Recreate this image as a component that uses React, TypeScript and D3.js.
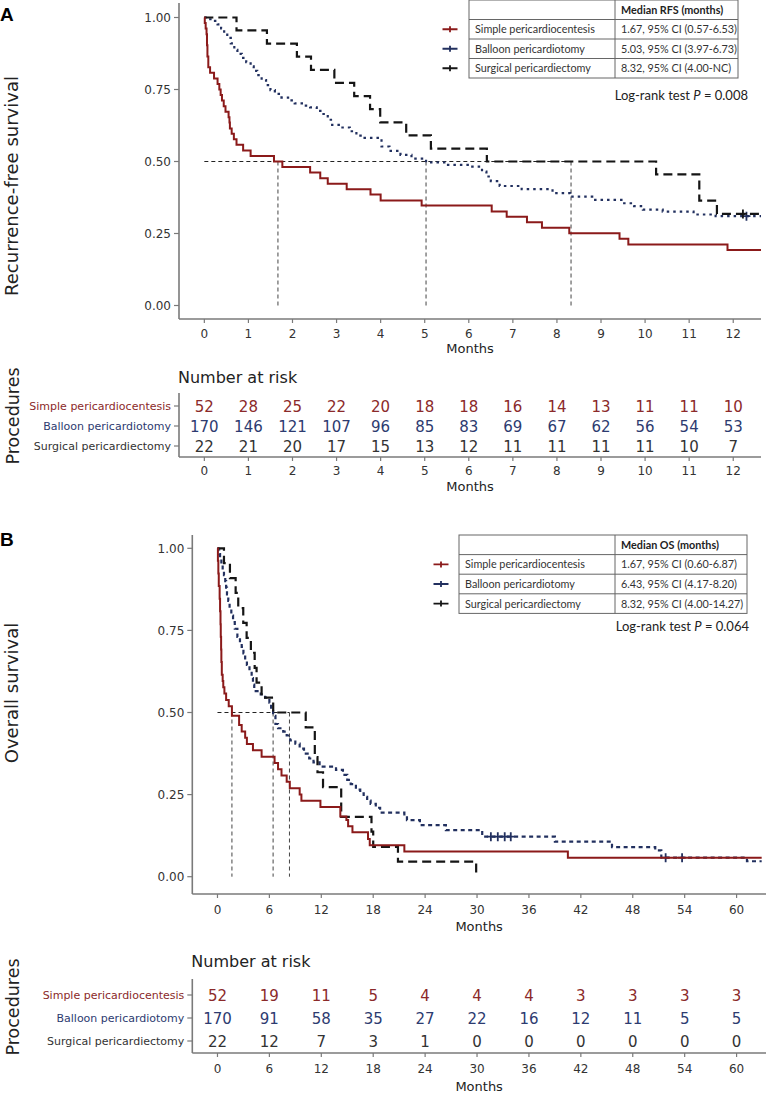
import React, { useEffect, useRef } from "react";
import * as d3 from "d3";

type Step = [number, number];

// groups and colours
const groups = ["Simple pericardiocentesis", "Balloon pericardiotomy", "Surgical pericardiectomy"];
const lineColors = ["#8b1a1a", "#22305f", "#151515"];
const labelColors = ["#8b2a2a", "#2d3b70", "#333333"];

// Panel A - recurrence-free survival (time in months, survival after each drop)
const rfsSimple: Step[] = [
  [0.01, 0.981], [0.03, 0.962], [0.05, 0.942], [0.06, 0.904], [0.07, 0.865], [0.09, 0.827],
  [0.13, 0.808], [0.22, 0.788], [0.3, 0.769], [0.34, 0.75], [0.37, 0.731], [0.4, 0.712],
  [0.44, 0.692], [0.48, 0.673], [0.55, 0.654], [0.57, 0.635], [0.58, 0.615], [0.62, 0.596],
  [0.67, 0.577], [0.73, 0.558], [0.88, 0.538], [1.05, 0.519], [1.58, 0.5], [1.77, 0.481],
  [2.4, 0.462], [2.63, 0.442], [2.8, 0.423], [3.23, 0.404], [3.77, 0.385], [4.0, 0.365],
  [4.93, 0.347], [6.52, 0.326], [6.86, 0.308], [7.32, 0.289], [7.66, 0.27], [8.28, 0.251],
  [9.42, 0.232], [9.62, 0.212], [11.87, 0.193],
];
const rfsBalloon: Step[] = [
  [0.1, 0.994], [0.2, 0.988], [0.3, 0.976], [0.38, 0.962], [0.45, 0.947], [0.52, 0.929],
  [0.6, 0.91], [0.68, 0.888], [0.75, 0.874], [0.85, 0.86], [0.95, 0.845], [1.05, 0.83],
  [1.12, 0.815], [1.2, 0.8], [1.3, 0.783], [1.4, 0.765], [1.5, 0.748], [1.6, 0.735],
  [1.75, 0.722], [1.9, 0.712], [2.05, 0.702], [2.25, 0.694], [2.4, 0.688], [2.55, 0.676],
  [2.66, 0.665], [2.8, 0.645], [2.9, 0.627], [3.1, 0.618], [3.3, 0.605], [3.45, 0.59],
  [3.6, 0.582], [4.02, 0.552], [4.2, 0.537], [4.45, 0.523], [4.7, 0.51], [5.03, 0.497],
  [5.5, 0.488], [6.05, 0.482], [6.3, 0.465], [6.4, 0.448], [6.5, 0.432], [6.7, 0.415],
  [7.2, 0.404], [7.9, 0.39], [8.3, 0.378], [8.8, 0.367], [9.5, 0.355], [9.75, 0.345],
  [9.95, 0.333], [10.4, 0.326], [11.1, 0.316], [11.6, 0.31],
];
const rfsSurgical: Step[] = [
  [0.73, 0.955], [1.42, 0.909], [2.1, 0.864], [2.42, 0.818], [2.95, 0.773], [3.4, 0.727],
  [3.76, 0.682], [3.99, 0.636], [4.58, 0.591], [5.14, 0.545], [6.41, 0.5], [10.25, 0.455],
  [11.23, 0.364], [11.63, 0.318],
];
const rfsEnd = [12.63, 12.63, 12.63];
const rfsCensor = [[], [12.3], [12.22]];
const medianA = [1.67, 5.03, 8.32];
const medianTextA = ["1.67, 95% CI (0.57-6.53)", "5.03, 95% CI (3.97-6.73)", "8.32, 95% CI (4.00-NC)"];

// Panel B - overall survival
const osSimple: Step[] = [
  [0.05, 0.962], [0.1, 0.923], [0.15, 0.885], [0.25, 0.846], [0.3, 0.808], [0.35, 0.769],
  [0.38, 0.731], [0.42, 0.692], [0.45, 0.654], [0.5, 0.615], [0.6, 0.596], [0.67, 0.577],
  [0.8, 0.558], [1.0, 0.538], [1.3, 0.519], [1.67, 0.49], [2.5, 0.462], [2.8, 0.442],
  [3.2, 0.423], [3.4, 0.404], [4.1, 0.385], [5.1, 0.365], [6.6, 0.346], [7.0, 0.327],
  [7.4, 0.308], [8.0, 0.289], [8.36, 0.269], [9.5, 0.25], [9.7, 0.231], [11.9, 0.212],
  [14.2, 0.183], [14.9, 0.173], [15.1, 0.154], [15.6, 0.135], [17.4, 0.115], [17.6, 0.096],
  [21.6, 0.077], [40.5, 0.058],
];
const osBalloon: Step[] = [
  [0.1, 0.994], [0.2, 0.982], [0.3, 0.97], [0.45, 0.953], [0.6, 0.935], [0.75, 0.918],
  [0.9, 0.9], [1.0, 0.88], [1.1, 0.86], [1.25, 0.84], [1.4, 0.818], [1.6, 0.795],
  [1.8, 0.775], [2.0, 0.755], [2.3, 0.73], [2.6, 0.712], [2.8, 0.7], [3.0, 0.68],
  [3.2, 0.66], [3.4, 0.645], [3.7, 0.625], [3.95, 0.605], [4.1, 0.585], [4.25, 0.565],
  [5.0, 0.555], [5.5, 0.545], [6.0, 0.53], [6.2, 0.51], [6.43, 0.49], [6.7, 0.465],
  [7.0, 0.452], [7.6, 0.442], [8.0, 0.43], [8.4, 0.415], [9.0, 0.405], [9.5, 0.39],
  [10.0, 0.375], [10.6, 0.36], [11.1, 0.348], [11.8, 0.335], [13.7, 0.325], [14.5, 0.31],
  [15.0, 0.295], [15.4, 0.282], [16.0, 0.265], [16.5, 0.254], [16.9, 0.243], [17.3, 0.232],
  [17.7, 0.222], [18.3, 0.21], [18.8, 0.195], [21.6, 0.185], [21.9, 0.172], [23.4, 0.157],
  [26.4, 0.142], [30.6, 0.122], [39.0, 0.107], [45.6, 0.09], [50.6, 0.08], [51.3, 0.058],
  [61.2, 0.047],
];
const osSurgical: Step[] = [
  [0.75, 0.955], [1.44, 0.909], [2.1, 0.864], [2.4, 0.818], [2.98, 0.773], [3.37, 0.727],
  [3.86, 0.682], [4.3, 0.636], [4.52, 0.591], [5.1, 0.545], [6.44, 0.5], [10.2, 0.455],
  [11.25, 0.364], [11.56, 0.318], [12.2, 0.273], [14.3, 0.182], [17.8, 0.137], [18.0, 0.091],
  [20.86, 0.046], [29.9, 0.0],
];
const osEnd = [62.9, 62.9, 29.9];
const osCensor = [[], [31.6, 32.4, 33.2, 33.9, 51.8, 53.7], []];
const medianB = [1.67, 6.43, 8.32];
const medianTextB = ["1.67, 95% CI (0.60-6.87)", "6.43, 95% CI (4.17-8.20)", "8.32, 95% CI (4.00-14.27)"];

// numbers at risk
const riskTimesA = [0, 1, 2, 3, 4, 5, 6, 7, 8, 9, 10, 11, 12];
const riskSimpleA = [52, 28, 25, 22, 20, 18, 18, 16, 14, 13, 11, 11, 10];
const riskBalloonA = [170, 146, 121, 107, 96, 85, 83, 69, 67, 62, 56, 54, 53];
const riskSurgicalA = [22, 21, 20, 17, 15, 13, 12, 11, 11, 11, 11, 10, 7];
const riskTimesB = [0, 6, 12, 18, 24, 30, 36, 42, 48, 54, 60];
const riskSimpleB = [52, 19, 11, 5, 4, 4, 4, 3, 3, 3, 3];
const riskBalloonB = [170, 91, 58, 35, 27, 22, 16, 12, 11, 5, 5];
const riskSurgicalB = [22, 12, 7, 3, 1, 0, 0, 0, 0, 0, 0];

const yTicks = [0, 0.25, 0.5, 0.75, 1];

const sans = "'DejaVu Sans', Verdana, sans-serif";
const calib = "Lato, 'Open Sans', sans-serif";
const axisColor = "#7a7a7a";

const panelA = {
  letter: "A", letterY: 21,
  xDomain: [-0.575, 12.63], xRange: [179, 761],
  yRange: [305.5, 17.5], axisTop: 3, axisBottom: 319,
  xTicks: riskTimesA, xTickY: 337.5, monthsY: 352.5,
  yTitle: "Recurrence-free survival", yTitleY: 186,
  curves: [rfsSimple, rfsBalloon, rfsSurgical], ends: rfsEnd, censors: rfsCensor,
  blueDash: "2.5,4",
  medians: medianA,
  legend: { left: 469, right: 738, divider: 615, top: 0, rowH: 19.5, symX: 450, header: "Median RFS (months)", texts: medianTextA },
  logRank: "0.008", logRankX: 748, logRankY: 100,
  risk: {
    titleY: 383, top: 393, bottom: 457, rows: [406, 426, 446], tickY: 474.5, monthsY: 490.5,
    procY: 416, values: [riskSimpleA, riskBalloonA, riskSurgicalA],
  },
};

const panelB = {
  letter: "B", letterY: 546,
  xDomain: [-2.91, 63.4], xRange: [192.3, 766],
  yRange: [876.7, 548.3], axisTop: 535, axisBottom: 894,
  xTicks: riskTimesB, xTickY: 913.5, monthsY: 930.5,
  yTitle: "Overall survival", yTitleY: 693,
  curves: [osSimple, osBalloon, osSurgical], ends: osEnd, censors: osCensor,
  blueDash: "4,3.5",
  medians: medianB,
  legend: { left: 459, right: 747, divider: 615, top: 535, rowH: 19.6, symX: 441, header: "Median OS (months)", texts: medianTextB },
  logRank: "0.064", logRankX: 749, logRankY: 631,
  risk: {
    titleY: 967, top: 979, bottom: 1053, rows: [995, 1018, 1041], tickY: 1072.5, monthsY: 1090.5,
    procY: 1007, values: [riskSimpleB, riskBalloonB, riskSurgicalB],
  },
};

function survivalAt(steps: Step[], t: number) {
  let s = 1;
  steps.forEach((d) => {
    if (d[0] <= t) s = d[1];
  });
  return s;
}

function drawPanel(svg: any, p: any) {
  const x = d3.scaleLinear().domain(p.xDomain).range(p.xRange);
  const y = d3.scaleLinear().domain([0, 1]).range(p.yRange);
  const left = p.xRange[0];
  const right = p.xRange[1];
  const g = svg.append("g");

  // panel letter
  g.append("text")
    .attr("x", 0)
    .attr("y", p.letterY)
    .style("font-family", "'Liberation Sans', Arial, sans-serif")
    .style("font-weight", "bold")
    .style("font-size", "19px")
    .text(p.letter);

  // axes
  g.append("line")
    .attr("x1", left).attr("x2", left)
    .attr("y1", p.axisTop).attr("y2", p.axisBottom)
    .attr("stroke", axisColor).attr("stroke-width", 1.6);
  g.append("line")
    .attr("x1", left).attr("x2", right)
    .attr("y1", p.axisBottom).attr("y2", p.axisBottom)
    .attr("stroke", axisColor).attr("stroke-width", 1.6);

  yTicks.forEach((v) => {
    g.append("line")
      .attr("x1", left - 5).attr("x2", left)
      .attr("y1", y(v)).attr("y2", y(v))
      .attr("stroke", axisColor).attr("stroke-width", 1.2);
    g.append("text")
      .attr("x", left - 8)
      .attr("y", y(v) + 4.3)
      .attr("text-anchor", "end")
      .style("font-family", sans).style("font-size", "12px").attr("fill", "#333")
      .text(d3.format(".2f")(v));
  });

  p.xTicks.forEach((t: number) => {
    g.append("line")
      .attr("x1", x(t)).attr("x2", x(t))
      .attr("y1", p.axisBottom).attr("y2", p.axisBottom + 4)
      .attr("stroke", axisColor).attr("stroke-width", 1.2);
    g.append("text")
      .attr("x", x(t)).attr("y", p.xTickY)
      .attr("text-anchor", "middle")
      .style("font-family", sans).style("font-size", "12px").attr("fill", "#333")
      .text(t);
  });

  g.append("text")
    .attr("x", (left + right) / 2).attr("y", p.monthsY)
    .attr("text-anchor", "middle")
    .style("font-family", sans).style("font-size", "13px").attr("fill", "#222")
    .text("Months");

  g.append("text")
    .attr("transform", `translate(18,${p.yTitleY}) rotate(-90)`)
    .attr("text-anchor", "middle")
    .style("font-family", sans).style("font-size", "18px").attr("fill", "#222")
    .text(p.yTitle);

  // median lines
  const maxMedian = d3.max(p.medians as number[]) as number;
  g.append("line")
    .attr("x1", x(0)).attr("x2", x(maxMedian))
    .attr("y1", y(0.5)).attr("y2", y(0.5))
    .attr("stroke", "#222").attr("stroke-width", 1).attr("stroke-dasharray", "4,3");
  p.medians.forEach((m: number) => {
    g.append("line")
      .attr("x1", x(m)).attr("x2", x(m))
      .attr("y1", y(0.5)).attr("y2", y(0))
      .attr("stroke", "#444").attr("stroke-width", 1).attr("stroke-dasharray", "4,3");
  });

  // survival curves
  const line = d3
    .line<Step>()
    .x((d) => x(d[0]))
    .y((d) => y(d[1]))
    .curve(d3.curveStepAfter);
  const styles = [
    { dash: null, width: 2 },
    { dash: p.blueDash, width: 2.2 },
    { dash: "9,5", width: 2.2 },
  ];
  [1, 2, 0].forEach((i) => {
    const steps: Step[] = p.curves[i];
    const last = steps[steps.length - 1][1];
    const pts: Step[] = [[0, 1], ...steps, [p.ends[i], last]];
    g.append("path")
      .attr("d", line(pts))
      .attr("fill", "none")
      .attr("stroke", lineColors[i])
      .attr("stroke-width", styles[i].width)
      .attr("stroke-dasharray", styles[i].dash);
    p.censors[i].forEach((t: number) => {
      const cy = y(survivalAt(steps, t));
      g.append("path")
        .attr("d", `M${x(t) - 4},${cy}H${x(t) + 4}M${x(t)},${cy - 4.5}V${cy + 4.5}`)
        .attr("stroke", lineColors[i])
        .attr("stroke-width", 1.8)
        .attr("fill", "none");
    });
  });

  // legend table
  const L = p.legend;
  const lg = g.append("g");
  const bottom = L.top + L.rowH * 4;
  lg.append("rect")
    .attr("x", L.left).attr("y", L.top)
    .attr("width", L.right - L.left).attr("height", bottom - L.top)
    .attr("fill", "#fff").attr("stroke", "#666").attr("stroke-width", 1);
  lg.append("line")
    .attr("x1", L.divider).attr("x2", L.divider)
    .attr("y1", L.top).attr("y2", bottom)
    .attr("stroke", "#666").attr("stroke-width", 1);
  [1, 2, 3].forEach((r) => {
    lg.append("line")
      .attr("x1", L.left).attr("x2", L.right)
      .attr("y1", L.top + r * L.rowH).attr("y2", L.top + r * L.rowH)
      .attr("stroke", "#666").attr("stroke-width", 1);
  });
  lg.append("text")
    .attr("x", L.divider + 6).attr("y", L.top + 13.8)
    .style("font-family", calib).style("font-size", "10.8px").style("font-weight", "bold")
    .attr("fill", "#222")
    .text(L.header);
  groups.forEach((name, i) => {
    const rowTop = L.top + (i + 1) * L.rowH;
    const cy = rowTop + L.rowH / 2;
    lg.append("text")
      .attr("x", L.left + 6).attr("y", rowTop + 13.8)
      .style("font-family", calib).style("font-size", "10.8px").attr("fill", "#333")
      .text(name);
    lg.append("text")
      .attr("x", L.divider + 6).attr("y", rowTop + 13.8)
      .style("font-family", calib).style("font-size", "10.8px").attr("fill", "#333")
      .text(L.texts[i]);
    lg.append("path")
      .attr("d", `M${L.symX - 7.5},${cy}H${L.symX + 7.5}M${L.symX},${cy - 3}V${cy + 3}`)
      .attr("stroke", lineColors[i]).attr("stroke-width", 1.8).attr("fill", "none");
  });

  const lr = g.append("text")
    .attr("x", p.logRankX).attr("y", p.logRankY)
    .attr("text-anchor", "end")
    .style("font-family", calib).style("font-size", "13px").attr("fill", "#222");
  lr.append("tspan").text("Log-rank test ");
  lr.append("tspan").style("font-style", "italic").text("P");
  lr.append("tspan").text(` = ${p.logRank}`);

  // risk table
  const R = p.risk;
  const rg = g.append("g");
  rg.append("text")
    .attr("x", left - 1).attr("y", R.titleY)
    .style("font-family", sans).style("font-size", "16px").attr("fill", "#222")
    .text("Number at risk");
  rg.append("line")
    .attr("x1", left).attr("x2", left).attr("y1", R.top).attr("y2", R.bottom)
    .attr("stroke", axisColor).attr("stroke-width", 1.6);
  rg.append("line")
    .attr("x1", left).attr("x2", right).attr("y1", R.bottom).attr("y2", R.bottom)
    .attr("stroke", axisColor).attr("stroke-width", 1.6);
  groups.forEach((name, i) => {
    const ry = R.rows[i];
    rg.append("line")
      .attr("x1", left - 5).attr("x2", left).attr("y1", ry).attr("y2", ry)
      .attr("stroke", axisColor).attr("stroke-width", 1.2);
    rg.append("text")
      .attr("x", left - 8).attr("y", ry + 4)
      .attr("text-anchor", "end")
      .style("font-family", sans).style("font-size", "11px").attr("fill", labelColors[i])
      .text(name);
    R.values[i].forEach((v: number, j: number) => {
      rg.append("text")
        .attr("x", x(p.xTicks[j])).attr("y", ry + 5.5)
        .attr("text-anchor", "middle")
        .style("font-family", sans).style("font-size", "15px").attr("fill", labelColors[i])
        .text(v);
    });
  });
  p.xTicks.forEach((t: number) => {
    rg.append("line")
      .attr("x1", x(t)).attr("x2", x(t))
      .attr("y1", R.bottom).attr("y2", R.bottom + 4)
      .attr("stroke", axisColor).attr("stroke-width", 1.2);
    rg.append("text")
      .attr("x", x(t)).attr("y", R.tickY)
      .attr("text-anchor", "middle")
      .style("font-family", sans).style("font-size", "12px").attr("fill", "#333")
      .text(t);
  });
  rg.append("text")
    .attr("x", (left + right) / 2).attr("y", R.monthsY)
    .attr("text-anchor", "middle")
    .style("font-family", sans).style("font-size", "13px").attr("fill", "#222")
    .text("Months");
  rg.append("text")
    .attr("transform", `translate(19,${R.procY}) rotate(-90)`)
    .attr("text-anchor", "middle")
    .style("font-family", sans).style("font-size", "17.5px").attr("fill", "#222")
    .text("Procedures");
}

const App = () => {
  const svgRef = useRef<SVGSVGElement>(null);

  useEffect(() => {
    const svg = d3.select(svgRef.current);
    svg.selectAll("*").remove();
    drawPanel(svg, panelA);
    drawPanel(svg, panelB);
  }, []);

  return (
    <svg
      ref={svgRef}
      width={775}
      height={1095}
      style={{ position: "absolute", left: 0, top: 0, background: "#fff" }}
    />
  );
};

export default App;
